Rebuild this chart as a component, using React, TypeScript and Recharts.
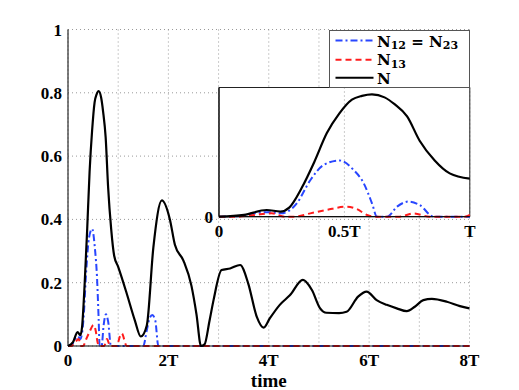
import { LineChart, Line, XAxis, YAxis, CartesianGrid, ReferenceArea } from 'recharts'

// time in units of T
const nTime = [0, 0.1, 0.19, 0.245, 0.28, 0.33, 0.38, 0.43, 0.48, 0.53, 0.57, 0.61, 0.66, 0.7, 0.75, 0.8, 0.86, 0.92, 1.0,
  1.17, 1.33, 1.45, 1.57, 1.7, 1.87, 2.03, 2.13, 2.3, 2.46, 2.56, 2.65, 2.72, 2.82, 2.9, 3.06, 3.23, 3.43, 3.59, 3.76, 3.9,
  4.02, 4.22, 4.42, 4.68, 4.86, 5.02, 5.15, 5.4, 5.55, 5.78, 5.95, 6.15, 6.35, 6.55, 6.75, 6.91, 7.08, 7.25, 7.55, 7.81, 8.0]
const nVal = [0, 0.012, 0.044, 0.034, 0.06, 0.19, 0.36, 0.55, 0.68, 0.77, 0.795, 0.805, 0.785, 0.74, 0.66, 0.5, 0.37, 0.285, 0.25,
  0.166, 0.082, 0.03, 0.065, 0.31, 0.46, 0.4, 0.32, 0.27, 0.19, 0.1, 0.0, 0.005, 0.08, 0.145, 0.24, 0.245, 0.256, 0.198, 0.093, 0.058,
  0.087, 0.13, 0.16, 0.209, 0.177, 0.12, 0.105, 0.104, 0.108, 0.156, 0.172, 0.145, 0.13, 0.119, 0.11, 0.124, 0.145, 0.149, 0.14, 0.126, 0.119]

const n12Time = [0, 0.08, 0.14, 0.2, 0.245, 0.28, 0.31, 0.364, 0.417, 0.48, 0.537, 0.577, 0.61, 0.63, 0.67, 0.71, 0.756, 0.8, 0.856,
  1.0, 1.5, 1.57, 1.62, 1.68, 1.74, 1.8, 8.0]
const n12Val = [0, 0.005, 0.022, 0.03, 0.022, 0.04, 0.088, 0.24, 0.34, 0.37, 0.307, 0.22, 0.088, 0, 0, 0.066, 0.1, 0.077, 0,
  0, 0, 0.05, 0.085, 0.098, 0.08, 0, 0]

const n13Time = [0, 0.07, 0.14, 0.21, 0.264, 0.3, 0.364, 0.43, 0.51, 0.55, 0.59, 0.62, 0.72, 0.776, 0.84, 0.98, 1.0, 1.07, 1.17, 8.0]
const n13Val = [0, 0, 0.011, 0.022, 0, 0, 0.022, 0.045, 0.066, 0.05, 0.011, 0, 0, 0.022, 0, 0, 0.012, 0.04, 0, 0]

const mainXTicks = [0, 1, 2, 3, 4, 5, 6, 7, 8]
const mainYTicks = [0, 0.2, 0.4, 0.6, 0.8, 1]
const insetXTicks = [0, 0.5, 1]
const insetYTicks = [0]

const toPts = (ts: number[], vs: number[]) => ts.map((t, i) => ({ t, v: vs[i] }))
const nData = toPts(nTime, nVal)
const n12Data = toPts(n12Time, n12Val)
const n13Data = toPts(n13Time, n13Val)
const firstPeriod = (d: { t: number; v: number }[]) => d.filter(p => p.t <= 1)

const FONT = 'Liberation Serif, Times New Roman, serif'
const LEGEND_FONT = 'DejaVu Serif, serif'
const tickStyle = { fontSize: 17, fontWeight: 'bold', fill: '#000', fontFamily: FONT, style: { fontFamily: FONT } }
const BLUE = '#2846ff'
const RED = '#ff1c1c'

function fmtMain(t: number) {
  if (t === 0) return '0'
  return t % 2 === 0 ? `${t}T` : ''
}

function fmtInset(t: number) {
  if (t === 0) return '0'
  if (t === 1) return 'T'
  return `${t}T`
}

export default function App() {
  return (
    <div style={{ position: 'absolute', left: 0, top: 0, width: 519, height: 390, background: '#fff', fontFamily: FONT, fontWeight: 'bold' }}>
      <div style={{ position: 'absolute', left: 0, top: 0 }}>
        <LineChart width={519} height={390} margin={{ top: 29.5, right: 49.5, bottom: 0, left: 8 }}>
          <CartesianGrid stroke="#999" strokeDasharray="1 3" />
          <XAxis dataKey="t" type="number" domain={[0, 8]} ticks={mainXTicks} tickFormatter={fmtMain}
            tick={tickStyle} tickLine={false} axisLine={{ stroke: '#000' }} height={44} interval={0}
            label={{ value: 'time', position: 'insideBottom', offset: 3, fontSize: 19, fontWeight: 'bold', fill: '#000', fontFamily: FONT }} />
          <XAxis xAxisId="top" orientation="top" type="number" domain={[0, 8]} tick={false} tickLine={false}
            height={0} axisLine={{ stroke: '#444' }} />
          <YAxis type="number" domain={[0, 1]} ticks={mainYTicks} tick={tickStyle} tickLine={false} tickMargin={0}
            axisLine={{ stroke: '#000' }} width={60} interval={0} />
          <YAxis yAxisId="right" orientation="right" type="number" domain={[0, 1]} tick={false} tickLine={false}
            width={0} axisLine={{ stroke: '#444' }} />
          <Line data={n12Data} dataKey="v" type="monotone" stroke={BLUE} strokeWidth={2} strokeDasharray="7 3 2 3"
            dot={false} isAnimationActive={false} />
          <Line data={n13Data} dataKey="v" type="monotone" stroke={RED} strokeWidth={2} strokeDasharray="6 4"
            dot={false} isAnimationActive={false} />
          <Line data={nData} dataKey="v" type="monotone" stroke="#000" strokeWidth={2.2}
            dot={false} isAnimationActive={false} />
        </LineChart>
      </div>

      {/* inset: first period */}
      <div style={{ position: 'absolute', left: 188.7, top: 80 }}>
        <LineChart width={300} height={165} margin={{ top: 7.5, right: 19.2, bottom: 3.3, left: 0 }}>
          <CartesianGrid stroke="#999" strokeDasharray="1 3" horizontal={false} fill="#fff" />
          <ReferenceArea x1={0} x2={1} y1={0} y2={0.85} fill="none" stroke="#222" strokeWidth={1} />
          <XAxis dataKey="t" type="number" domain={[0, 1]} ticks={insetXTicks} tickFormatter={fmtInset}
            tick={tickStyle} tickLine={false} axisLine={{ stroke: '#000' }} height={25} interval={0} />
          <YAxis type="number" domain={[0, 0.85]} ticks={insetYTicks} tick={tickStyle} tickLine={false}
            tickMargin={0} axisLine={{ stroke: '#000' }} width={30} interval={0} />
          <Line data={firstPeriod(n12Data)} dataKey="v" type="monotone" stroke={BLUE} strokeWidth={2}
            strokeDasharray="7 3 2 3" dot={false} isAnimationActive={false} />
          <Line data={firstPeriod(n13Data)} dataKey="v" type="monotone" stroke={RED} strokeWidth={2}
            strokeDasharray="6 4" dot={false} isAnimationActive={false} />
          <Line data={firstPeriod(nData)} dataKey="v" type="monotone" stroke="#000" strokeWidth={2.2}
            dot={false} isAnimationActive={false} />
        </LineChart>
      </div>

      {/* legend box */}
      <div style={{ position: 'absolute', left: 328.5, top: 29.5, width: 141, height: 58.5, background: '#fff',
        boxSizing: 'border-box', border: '1px solid #555' }}>
        <svg width={141} height={58} style={{ position: 'absolute', left: -1, top: -1 }}>
          <line x1={6.5} x2={44.5} y1={10.5} y2={10.5} stroke={BLUE} strokeWidth={2} strokeDasharray="7 3 2 3" />
          <line x1={6.5} x2={44.5} y1={29.8} y2={29.8} stroke={RED} strokeWidth={2} strokeDasharray="6 4" />
          <line x1={6.5} x2={44.5} y1={47.8} y2={47.8} stroke="#000" strokeWidth={2} />
          <g fontFamily={LEGEND_FONT} fontWeight="bold" fill="#000" style={{ fontFamily: LEGEND_FONT }}>
            <text x={48} y={16.5} fontSize={15}>
              N<tspan fontSize={11} dy={2.5}>12</tspan><tspan dy={-2.5}>{' = N'}</tspan><tspan fontSize={11} dy={2.5}>23</tspan>
            </text>
            <text x={48} y={35} fontSize={15}>
              N<tspan fontSize={11} dy={2.5}>13</tspan>
            </text>
            <text x={48} y={53.5} fontSize={15}>N</text>
          </g>
        </svg>
      </div>
    </div>
  )
}
